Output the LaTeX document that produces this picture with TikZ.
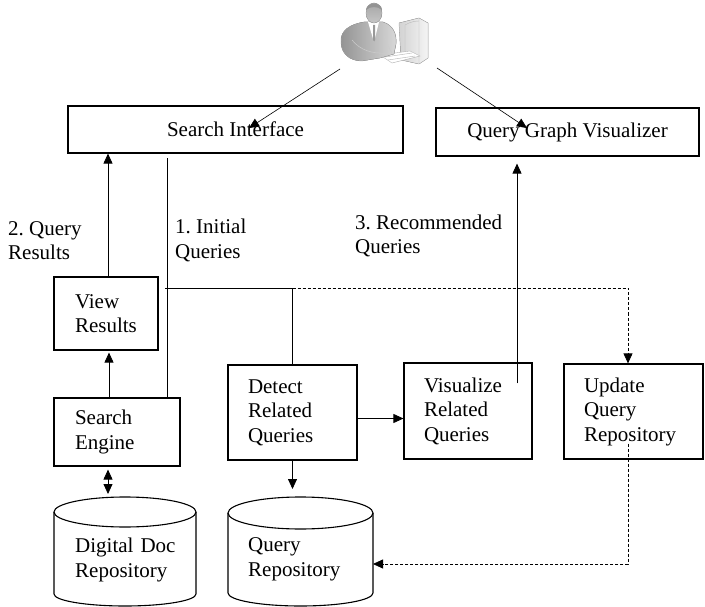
\documentclass[tikz,border=0pt]{standalone}
\usepackage{fontspec}
\setmainfont{Liberation Serif}
\usetikzlibrary{arrows.meta,calc}
\frenchspacing
\begin{document}
\begin{tikzpicture}[x=1pt,y=-1pt,
  font=\fontsize{21}{24.5}\selectfont,
  box/.style={draw, line width=1.2pt, inner ysep=0pt, align=left},
  cyl/.style={line width=1.1pt},
  wire/.style={line width=0.8pt},
  thinwire/.style={line width=0.6pt},
  tip/.style={-{Triangle[length=10pt,width=9pt]}},
  tipboth/.style={{Triangle[length=10pt,width=9pt]}-{Triangle[length=10pt,width=9pt]}},
  dotwire/.style={line width=0.8pt, dash pattern=on 3pt off 2pt},
  lbl/.style={inner sep=0pt, align=left, anchor=west},
  txt/.style={inner ysep=0pt, align=left},
]
\useasboundingbox (0,0) rectangle (705,607);

% ---- user at the workstation ----
\begin{scope}
  % monitor
  \fill[left color=gray!35, right color=gray!8, draw=gray!60, line width=0.4pt]
    (399,23) -- (419,18) -- (428,23) -- (428,58) -- (419,64) -- (401,60) -- cycle;
  \draw[gray!55, line width=0.4pt] (405,25) -- (405,58) (419,18) -- (419,64)
    (405,25) .. controls (410,22) and (415,21) .. (419,21);
  % keyboard and mouse
  \fill[white, draw=gray!60, line width=0.4pt]
    (380,55) -- (410,51) -- (420,56) -- (392,63) -- cycle;
  \draw[gray!60, line width=0.4pt] (385,57) -- (412,53) (388,60) -- (415,56);
  % torso
  \fill[left color=gray!85, right color=gray!30, draw=gray!70, line width=0.4pt]
    (341,42) .. controls (340,30) and (351,24) .. (364,22)
    -- (383,22) .. controls (393,25) and (397,34) .. (396,44)
    -- (394,54) -- (380,58) -- (362,61)
    .. controls (349,61) and (341,53) .. (341,42) -- cycle;
  % shirt and tie
  \fill[white] (368,22) -- (379,22) -- (374,42) -- cycle;
  \fill[gray!80] (373,25) -- (375,25) -- (375,40) -- (374,42) -- (373,40) -- cycle;
  % arm reaching the keyboard
  \draw[gray!40, line width=0.5pt] (352,40) .. controls (360,50) and (372,54) .. (386,53);
  \draw[gray!40, line width=0.5pt] (384,36) .. controls (388,44) and (389,49) .. (392,53);
  % head
  \fill[top color=gray!70, bottom color=gray!45, draw=gray!70, line width=0.4pt]
    (374,13) ellipse [x radius=8pt, y radius=10pt];
  \fill[gray!85] (366,10) .. controls (366,2) and (382,1) .. (382,10)
    .. controls (378,6) and (370,6) .. (366,10) -- cycle;
\end{scope}
\coordinate (userL) at (340,69);
\coordinate (userR) at (437,68);

% ---- process boxes ----
\node[box, minimum width=335, minimum height=47, align=center] (si) at (235.5,129.5) {Search Interface};
\node[box, minimum width=263, minimum height=48, align=center] (qgv) at (567.5,132) {Query Graph Visualizer};
\node[box, minimum width=104, minimum height=73, inner xsep=21pt, text width=62pt] (vr) at (106,313.5) {View\\Results};
\node[box, minimum width=126, minimum height=68, inner xsep=21pt, text width=84pt] (se) at (117,432) {Search\\Engine};
\node[box, minimum width=129, minimum height=95, inner xsep=20pt, text width=89pt] (drq) at (292.5,412.5) {Detect\\Related\\Queries};
\node[box, minimum width=128, minimum height=96, inner xsep=20pt, text width=88pt] (vrq) at (468,411) {Visualize\\Related\\Queries};
\node[box, minimum width=139, minimum height=95, inner xsep=20pt, text width=99pt] (uqr) at (633.5,411.5) {Update\\Query\\Repository};

% ---- repositories ----
\draw[cyl] (125,512) ellipse [x radius=71pt, y radius=15pt];
\draw[cyl] (54,512) -- (54,594) arc [start angle=180, end angle=360, x radius=71pt, y radius=12pt] -- (196,512);
\node[txt, anchor=west, inner xsep=0pt, text width=130pt] (ddr) at (75,560) {Digital Doc\\Repository};
\coordinate (ddrtop) at (125,497);

\draw[cyl] (300.5,513) ellipse [x radius=72.5pt, y radius=16pt];
\draw[cyl] (228,513) -- (228,593) arc [start angle=180, end angle=360, x radius=72.5pt, y radius=13pt] -- (373,513);
\node[txt, anchor=west, inner xsep=0pt, text width=120pt] (qr) at (248,559.5) {Query\\Repository};
\coordinate (qrtop) at (300.5,497);
\coordinate (qrright) at (373,564);

% ---- flow labels ----
\node[lbl] (lres) at (8,240.5) {2. Query\\Results};
\node[lbl] (linit) at (175,240.5) {1. Initial\\Queries};
\node[lbl] (lrec) at (355,236) {3. Recommended\\Queries};

% ---- connectors ----
\draw[thinwire, tip] (userL) -- ([xshift=13.5pt,yshift=1.5pt]si.center);
\draw[thinwire, tip] (userR) -- ([xshift=-40.5pt,yshift=4pt]qgv.center);

\draw[wire, tip] ([xshift=2pt]vr.north) -- ([xshift=2pt]vr.north |- si.south);
\draw[wire, tip, shorten >=2pt] ([xshift=-8pt]se.north) -- ([xshift=-8pt]se.north |- vr.south);
\draw[wire, tipboth, shorten <=3pt, shorten >=3pt] ([xshift=-9pt]se.south) -- ([xshift=-9pt]se.south |- ddrtop);

% initial queries from the interface to the engine, with its branch
\draw[wire, shorten >=4pt] ([xshift=-13pt]se.north east) -- ([xshift=-13pt]se.north east |- si.south);
\coordinate (fork) at (165,288);
\draw[wire] (fork) -| (drq.north);
\draw[dotwire, tip] (drq.north |- fork) -| ([xshift=-5.5pt]uqr.north);

\draw[wire, tip] ([yshift=-6pt]drq.east) -- ([yshift=-6pt]drq.east -| vrq.west);
\draw[wire, tip, shorten >=8pt] (drq.south) -- (drq.south |- qrtop);
\draw[wire, tip, shorten >=7pt] ([xshift=49pt,yshift=-21pt]vrq.north) -- ([xshift=49pt]vrq.north |- qgv.south);
\draw[dotwire, tip] ([xshift=-5.5pt,yshift=16pt]uqr.south) |- (qrright);

\end{tikzpicture}
\end{document}
